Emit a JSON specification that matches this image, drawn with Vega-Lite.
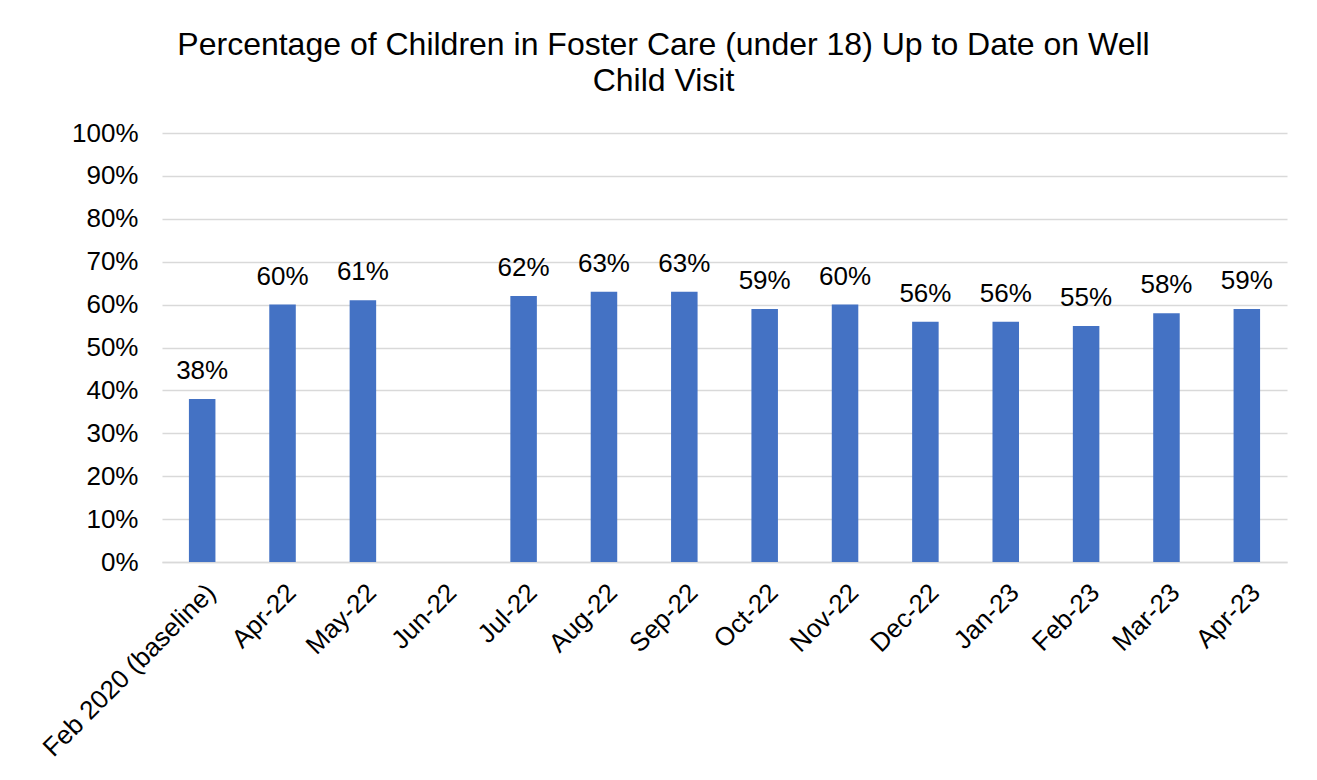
{
  "$schema": "https://vega.github.io/schema/vega-lite/v6.json",
  "width": 1125,
  "height": 429,
  "autosize": {"type": "none"},
  "padding": {"left": 162, "top": 133, "right": 30, "bottom": 218},
  "background": "white",
  "title": {
    "text": ["Percentage of Children in Foster Care (under 18) Up to Date on Well", "Child Visit"],
    "anchor": "middle",
    "frame": "group",
    "dx": -61,
    "offset": 22,
    "font": "Liberation Sans",
    "fontSize": 32,
    "fontWeight": "normal",
    "color": "#000000",
    "lineHeight": 36
  },
  "data": {
    "values": [
      {"month": "Feb 2020 (baseline)", "pct": 0.38},
      {"month": "Apr-22", "pct": 0.60},
      {"month": "May-22", "pct": 0.61},
      {"month": "Jun-22", "pct": null},
      {"month": "Jul-22", "pct": 0.62},
      {"month": "Aug-22", "pct": 0.63},
      {"month": "Sep-22", "pct": 0.63},
      {"month": "Oct-22", "pct": 0.59},
      {"month": "Nov-22", "pct": 0.60},
      {"month": "Dec-22", "pct": 0.56},
      {"month": "Jan-23", "pct": 0.56},
      {"month": "Feb-23", "pct": 0.55},
      {"month": "Mar-23", "pct": 0.58},
      {"month": "Apr-23", "pct": 0.59}
    ]
  },
  "encoding": {
    "x": {
      "field": "month",
      "type": "nominal",
      "sort": null,
      "scale": {
        "domain": ["Feb 2020 (baseline)", "Apr-22", "May-22", "Jun-22", "Jul-22", "Aug-22", "Sep-22", "Oct-22", "Nov-22", "Dec-22", "Jan-23", "Feb-23", "Mar-23", "Apr-23"],
        "paddingInner": 0.67,
        "paddingOuter": 0.335
      },
      "axis": {
        "title": null,
        "labelAngle": -45,
        "labelFont": "Liberation Sans",
        "labelFontSize": 26,
        "labelColor": "#000000",
        "labelPadding": 17,
        "labelLimit": 0,
        "ticks": false,
        "domainColor": "#d9d9d9",
        "domainWidth": 1.5,
        "labelOverlap": false
      }
    },
    "y": {
      "field": "pct",
      "type": "quantitative",
      "scale": {"domain": [0, 1], "nice": false},
      "axis": {
        "title": null,
        "format": ".0%",
        "values": [0, 0.1, 0.2, 0.3, 0.4, 0.5, 0.6, 0.7, 0.8, 0.9, 1],
        "labelFont": "Liberation Sans",
        "labelFontSize": 26,
        "labelColor": "#000000",
        "labelPadding": 24,
        "ticks": false,
        "domain": false,
        "gridColor": "#d9d9d9",
        "gridWidth": 1.5
      }
    }
  },
  "layer": [
    {"mark": {"type": "bar", "color": "#4472C4"}},
    {
      "mark": {"type": "text", "baseline": "bottom", "dy": -15, "font": "Liberation Sans", "fontSize": 26, "color": "#000000"},
      "encoding": {"text": {"field": "pct", "type": "quantitative", "format": ".0%"}}
    }
  ],
  "config": {"view": {"stroke": null}}
}
